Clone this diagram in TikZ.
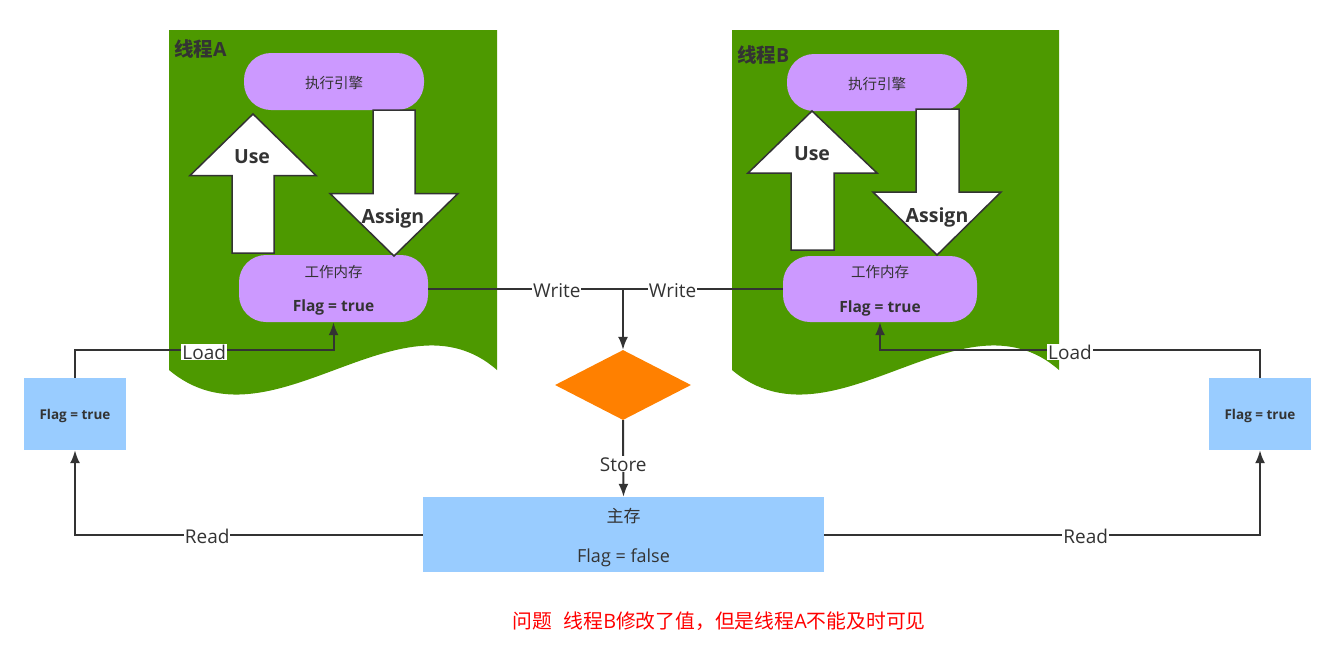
\documentclass[tikz,border=0pt]{standalone}
\usepackage{fontspec}
\setmainfont{Open Sans}
\newfontfamily\cjk{Noto Sans CJK SC}
\usetikzlibrary{arrows.meta,shapes.geometric,calc}
\definecolor{gr}{HTML}{4D9900}
\definecolor{pu}{HTML}{CC99FF}
\definecolor{bl}{HTML}{99CCFF}
\definecolor{og}{HTML}{FF8000}
\definecolor{dk}{HTML}{333333}
\begin{document}
\begin{tikzpicture}[x=1pt,y=-1pt,
  threadbg/.style={fill=gr},
  ttitle/.style={anchor=west,text=dk,font=\fontsize{19.5}{22}\selectfont\bfseries,inner sep=0},
  membox/.style={fill=pu,rounded corners=27pt,inner sep=0},
  blockarrow/.style={draw=dk,fill=white,line width=1.5pt,line join=miter},
  arrowlbl/.style={text=dk,font=\fontsize{19.5}{22}\selectfont\bfseries,inner sep=0},
  bluebox/.style={fill=bl,inner sep=0},
  txt/.style={text=dk,inner sep=0},
  conn/.style={draw=dk,line width=2pt},
  tip/.style={-{Latex[length=13pt,width=10pt]}},
  lbl/.style={fill=white,text=dk,font=\fontsize{19}{21}\selectfont,inner sep=1pt,yshift=-2pt}
]
\useasboundingbox (0,0) rectangle (1335,659);
% thread backgrounds
\fill[threadbg] (169,30) -- (497,30) -- (497,370) .. controls (400,285) and (270,455) .. (169,370) -- cycle;
\fill[threadbg] (732,30) -- (1059,30) -- (1059,370) .. controls (962,285) and (833,455) .. (732,370) -- cycle;
\node[ttitle] (ta) at (174,49) {{\cjk\bfseries 线程}A};
\node[ttitle] (tb) at (737,55) {{\cjk\bfseries 线程}B};
% engines and working memories
\node[membox,minimum width=180pt,minimum height=57pt] (engA) at (334,81.5) {};
\node[txt,font=\cjk\fontsize{14.5}{16}\selectfont] (engAt) at ($(engA.center)+(0,1)$) {执行引擎};
\node[membox,minimum width=189pt,minimum height=67pt] (wmA) at (333.5,288.5) {};
\node[txt,font=\cjk\fontsize{14.5}{16}\selectfont] (wmAt) at ($(wmA.center)+(0,-17)$) {工作内存};
\node[txt,font=\fontsize{15.5}{17}\selectfont\bfseries] (wmAf) at ($(wmA.center)+(0,19)$) {Flag = true};
\node[membox,minimum width=180pt,minimum height=57pt] (engB) at (877,82.5) {};
\node[txt,font=\cjk\fontsize{14.5}{16}\selectfont] (engBt) at ($(engB.center)+(0,1)$) {执行引擎};
\node[membox,minimum width=194pt,minimum height=66pt] (wmB) at (880,289) {};
\node[txt,font=\cjk\fontsize{14.5}{16}\selectfont] (wmBt) at ($(wmB.center)+(0,-17)$) {工作内存};
\node[txt,font=\fontsize{15.5}{17}\selectfont\bfseries] (wmBf) at ($(wmB.center)+(0,19)$) {Flag = true};
% block arrows thread A
\draw[blockarrow] (232,253) -- (232,175.5) -- (190,175.5) -- (253,114) -- (316,175.5) -- (274,175.5) -- (274,253) -- cycle;
\draw[blockarrow] (373,110) -- (373,193.5) -- (330,193.5) -- (394,256) -- (458,193.5) -- (415,193.5) -- (415,110) -- cycle;
\node[arrowlbl] (useA) at (252,157) {Use};
\node[arrowlbl] (asgA) at (393,218) {Assign};
% block arrows thread B
\draw[blockarrow] (791,250) -- (791,173) -- (748,173) -- (812,111) -- (877,173) -- (834,173) -- (834,250) -- cycle;
\draw[blockarrow] (916,109) -- (916,192) -- (873,192) -- (937,255) -- (1001,192) -- (959,192) -- (959,109) -- cycle;
\node[arrowlbl] (useB) at (812,154) {Use};
\node[arrowlbl] (asgB) at (937,217) {Assign};
% diamond
\node[diamond,fill=og,inner sep=0,aspect=1.94,minimum width=136pt,minimum height=70pt] (dia) at (623,385) {};
% main memory
\node[bluebox,minimum width=401pt,minimum height=75pt] (main) at (623.5,534.5) {};
\node[txt,font=\cjk\fontsize{17}{19}\selectfont] (mainT) at ($(main.center)+(0,-18)$) {主存};
\node[txt,font=\fontsize{18}{20}\selectfont] (mainF) at ($(main.center)+(0,23.5)$) {Flag = false};
% small boxes
\node[bluebox,minimum width=102pt,minimum height=72pt] (smL) at (75,414) {};
\node[txt,font=\fontsize{13.5}{15}\selectfont\bfseries] (smLt) at ($(smL.center)+(0,1.5)$) {Flag = true};
\node[bluebox,minimum width=102pt,minimum height=72pt] (smR) at (1260,414) {};
\node[txt,font=\fontsize{13.5}{15}\selectfont\bfseries] (smRt) at ($(smR.center)+(0,1.5)$) {Flag = true};
% connectors
\coordinate (ldy) at (0,350);
\draw[conn,tip] (wmA.east) -- node[lbl,pos=0.66]{Write} (wmA.east -| dia.north) -- (dia.north);
\draw[conn] (wmB.west) -- node[lbl,pos=0.69]{Write} (wmB.west -| dia.north);
\draw[conn,tip] (dia.south) -- node[lbl,pos=0.55]{Store} (main.north);
\draw[conn,tip] (main.west) -- node[lbl,pos=0.62]{Read} (main.west -| smL.south) -- (smL.south);
\draw[conn,tip] (main.east) -- node[lbl,pos=0.6]{Read} (main.east -| smR.south) -- (smR.south);
\draw[conn,tip] (smL.north) -- (smL.north |- ldy) -- node[lbl,pos=0.5]{Load} (wmA.south |- ldy) -- (wmA.south);
\draw[conn,tip] (smR.north) -- (smR.north |- ldy) -- node[lbl,pos=0.5]{Load} (wmB.south |- ldy) -- (wmB.south);
% note
\node[text=red,font=\fontsize{19.8}{22}\selectfont,inner sep=0] (note) at (719,621) {{\cjk 问题\hspace{0.6em}线程}B{\cjk 修改了值，但是线程}A{\cjk 不能及时可见}};
\end{tikzpicture}
\end{document}
